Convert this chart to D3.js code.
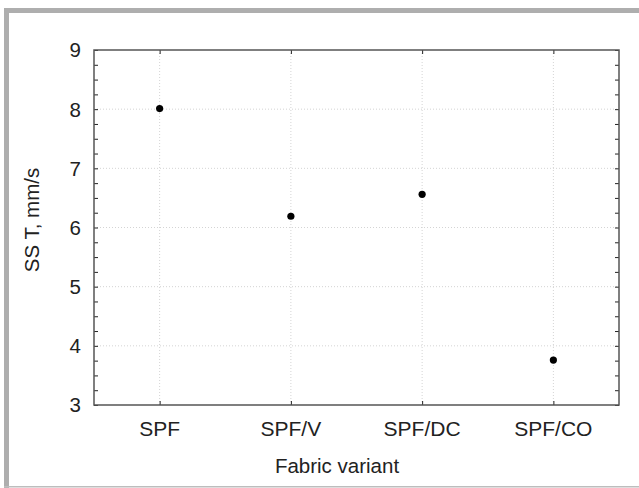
<!DOCTYPE html>
<html>
<head>
<meta charset="utf-8">
<script src="https://cdn.jsdelivr.net/npm/d3@7"></script>
<style>
  body { margin: 0; background: #fff; }
  svg { display: block; font-family: "Liberation Sans", Arial, sans-serif; }
  .grid line { stroke: #d4d4d4; stroke-dasharray: 1,2; }
</style>
</head>
<body>
<svg id="chart" width="639" height="488"></svg>
<script>
// values
var categories = ["SPF", "SPF/V", "SPF/DC", "SPF/CO"];
var values = [8.01, 6.19, 6.56, 3.76];
var yTicks = [3, 4, 5, 6, 7, 8, 9];

var svg = d3.select("#chart");

// grey frame
svg.append("rect").attr("x", 4).attr("y", 8).attr("width", 635).attr("height", 5).attr("fill", "#aeaeae");
svg.append("rect").attr("x", 4).attr("y", 8).attr("width", 5).attr("height", 480).attr("fill", "#aeaeae");
svg.append("rect").attr("x", 4).attr("y", 486).attr("width", 635).attr("height", 1.5).attr("fill", "#bdbdbd");

var plotLeft = 94, plotRight = 619, plotTop = 50, plotBottom = 405;

var x = d3.scalePoint()
    .domain(categories)
    .range([plotLeft, plotRight])
    .padding(0.5);

var y = d3.scaleLinear()
    .domain([3, 9])
    .range([plotBottom, plotTop]);

var minor = d3.range(3, 9.001, 0.25);

// gridlines
svg.append("g").attr("class", "grid")
    .selectAll("line").data(yTicks.slice(1, -1)).join("line")
    .attr("x1", plotLeft).attr("x2", plotRight)
    .attr("y1", d => y(d)).attr("y2", d => y(d));
svg.append("g").attr("class", "grid")
    .selectAll("line").data(categories).join("line")
    .attr("x1", d => x(d)).attr("x2", d => x(d))
    .attr("y1", plotTop).attr("y2", plotBottom);

// axes with inward ticks
function styleAxis(g) {
  g.select(".domain").remove();
  g.selectAll(".tick line").attr("stroke", "#222");
}

svg.append("g").attr("transform", "translate(" + plotLeft + ",0)")
    .call(d3.axisRight(y).tickValues(minor).tickSize(4).tickFormat(""))
    .call(styleAxis);
svg.append("g").attr("transform", "translate(" + plotRight + ",0)")
    .call(d3.axisLeft(y).tickValues(minor).tickSize(4).tickFormat(""))
    .call(styleAxis);
svg.append("g").attr("transform", "translate(0," + plotBottom + ")")
    .call(d3.axisTop(x).tickSize(4).tickFormat(""))
    .call(styleAxis);
svg.append("g").attr("transform", "translate(0," + plotTop + ")")
    .call(d3.axisBottom(x).tickSize(4).tickFormat(""))
    .call(styleAxis);

// tick labels
svg.append("g").selectAll("text").data(yTicks).join("text")
    .attr("x", 81).attr("y", d => y(d))
    .attr("dy", "0.36em")
    .attr("text-anchor", "end")
    .attr("font-size", 20.5).attr("fill", "#222")
    .text(d => d);
svg.append("g").selectAll("text").data(categories).join("text")
    .attr("x", d => x(d)).attr("y", 436)
    .attr("text-anchor", "middle")
    .attr("font-size", 21).attr("fill", "#222")
    .text(d => d);

// frame of plot
svg.append("rect")
    .attr("x", plotLeft).attr("y", plotTop)
    .attr("width", plotRight - plotLeft).attr("height", plotBottom - plotTop)
    .attr("fill", "none").attr("stroke", "#555").attr("stroke-width", 1.5);

// points
svg.append("g").selectAll("circle").data(values).join("circle")
    .attr("cx", (d, i) => x(categories[i]))
    .attr("cy", d => y(d))
    .attr("r", 3.6)
    .attr("fill", "#000");

// axis titles
svg.append("text")
    .attr("x", 337).attr("y", 473)
    .attr("text-anchor", "middle")
    .attr("font-size", 20.5).attr("fill", "#222")
    .text("Fabric variant");
svg.append("text")
    .attr("transform", "translate(38.5,220) rotate(-90)")
    .attr("text-anchor", "middle")
    .attr("font-size", 20.5).attr("fill", "#222")
    .text("SS T, mm/s");
</script>
</body>
</html>
